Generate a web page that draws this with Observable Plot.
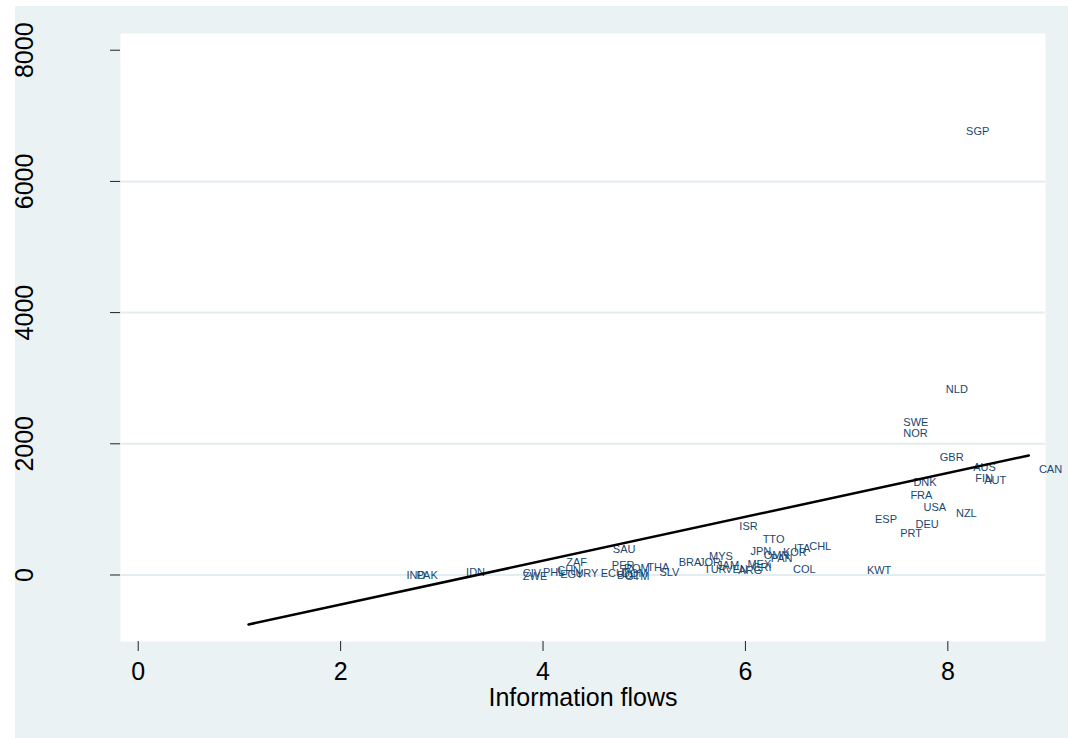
<!DOCTYPE html>
<html><head><meta charset="utf-8">
<script src="https://cdn.jsdelivr.net/npm/d3@7"></script>
<script src="https://cdn.jsdelivr.net/npm/@observablehq/plot@0.6"></script>
<style>
html,body{margin:0;padding:0;background:#fff;}
#wrap{position:absolute;left:15px;top:6px;width:1053px;height:732px;background:#eaf2f3;}
</style></head><body><div id="wrap"></div>
<script>
const countries = ["SGP","NLD","SWE","NOR","GBR","AUS","CAN","FIN","AUT","DNK","FRA","USA","NZL","ESP","DEU","PRT","KWT",
  "ISR","TTO","JPN","ITA","CHL","KOR","OMN","PAN","COL","MYS","BRA","JOR","TUR","JAM","VEN","ARG","MEX","CRI",
  "SAU","PER","ECU","THA","SLV","ROM","DOM","BOL","GTM","IND","PAK","IDN","CIV","ZWE","PHL","CHN","ZAF","EGY","URY"];
const infoFlows = [8.18,7.98,7.56,7.56,7.92,8.25,8.90,8.27,8.36,7.66,7.63,7.76,8.08,7.28,7.68,7.53,7.20,
  5.94,6.17,6.05,6.48,6.63,6.37,6.18,6.25,6.47,5.64,5.34,5.54,5.59,5.72,5.80,5.93,6.02,6.07,
  4.69,4.68,4.57,5.03,5.15,4.80,4.78,4.73,4.81,2.65,2.75,3.24,3.80,3.80,4.00,4.14,4.23,4.17,4.32];
const outcome = [6761,2828,2325,2157,1791,1639,1608,1471,1441,1410,1212,1029,938,846,770,633,69,
  739,541,358,404,434,343,297,252,84,282,191,191,84,145,84,69,160,114,
  389,145,23,114,38,99,23,-8,-23,-8,-8,38,23,-23,38,69,191,8,23];
const xTicks = [0,2,4,6,8];
const yTicks = [0,2000,4000,6000,8000];
const gridTicks = [0,2000,4000,6000];
const fitX = [1.09, 8.80];
const fitY = [-755, 1822];

const data = countries.map((c,i)=>({code:c, x:infoFlows[i], y:outcome[i]}));
const fit = fitX.map((x,i)=>({x, y:fitY[i]}));

const plot = Plot.plot({
  width:1053, height:732,
  marginLeft:105, marginRight:23, marginTop:27, marginBottom:97,
  style:{background:"transparent", fontFamily:"'Liberation Sans', Arial, sans-serif", overflow:"visible", color:"#000"},
  x:{domain:[-0.175, 8.965]},
  y:{domain:[-1014, 8255]},
  marks:[
    Plot.frame({fill:"white", stroke:null}),
    Plot.gridY(gridTicks,{stroke:"#e3ecef", strokeOpacity:1, strokeWidth:2}),
    Plot.axisX(xTicks,{tickSize:10, tickPadding:11, fontSize:25, line:true, stroke:"#222", tickFormat:d3.format("d"), label:"Information flows", labelArrow:"none", labelAnchor:"center", labelOffset:64}),
    Plot.axisY(yTicks,{tickSize:10, tickRotate:-90, tickPadding:78, fontSize:25, line:true, stroke:"#222", tickFormat:d3.format("d"), label:null}),
    Plot.text(data,{x:"x", y:"y", text:"code", textAnchor:"start", fill:"#1a476f", fontSize:11}),
    Plot.line(fit,{x:"x", y:"y", stroke:"black", strokeWidth:2.5})
  ]
});
document.getElementById("wrap").appendChild(plot);
</script></body></html>
